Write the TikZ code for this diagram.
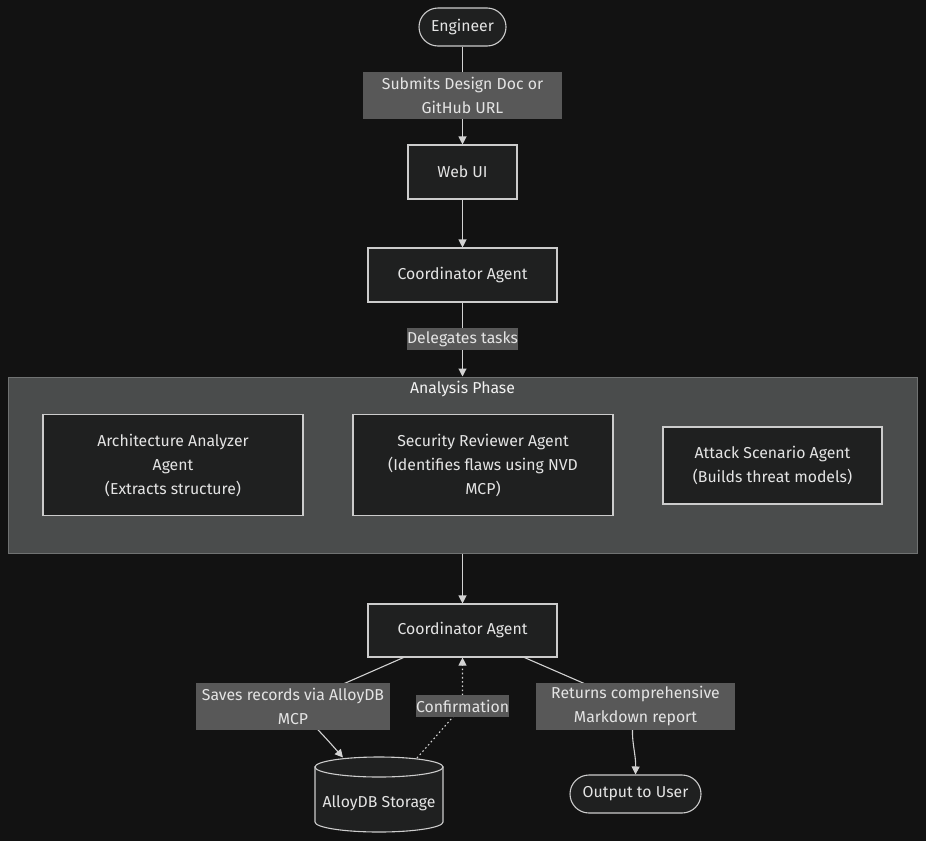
\documentclass[tikz,border=0pt]{standalone}
\usepackage{fontspec}
\setmainfont{Fira Sans}
\usetikzlibrary{arrows.meta}
\definecolor{bg}{RGB}{18,18,18}
\definecolor{nodefill}{RGB}{31,32,32}
\definecolor{nodeline}{RGB}{204,204,204}
\definecolor{txt}{RGB}{228,228,228}
\definecolor{lblfill}{RGB}{88,88,88}
\definecolor{clfill}{RGB}{74,76,76}
\definecolor{clline}{RGB}{112,114,114}
\definecolor{edgecol}{RGB}{210,210,210}
\begin{document}
\begin{tikzpicture}[x=1pt,y=-1pt,
  fnt/.style={font=\fontsize{15.8}{24}\selectfont},
  box/.style={fnt, draw=nodeline, fill=nodefill, line width=1.1pt, text=txt, align=center, inner sep=0pt},
  stadium/.style={box, rounded corners=19pt},
  lbl/.style={fnt, fill=lblfill, text=txt, align=center, inner sep=0pt},
  conn/.style={draw=edgecol, line width=1.1pt},
  arr/.style={conn, -{Triangle[length=8pt,width=8pt]}},
  cyl/.style={draw=nodeline, fill=nodefill, line width=1.1pt},
]
\useasboundingbox (0,0) rectangle (926,841);
\fill[bg] (0,0) rectangle (926,841);

% cluster
\node[draw=clline, fill=clfill, line width=1pt, minimum width=909pt, minimum height=176pt, inner sep=0pt] (ana) at (462.5,465) {};
\node[fnt, text={rgb,255:red,242;green,242;blue,242}, inner sep=0pt] (anatitle) at (462.5,389) {Analysis Phase};

% nodes
\node[stadium, minimum width=87pt, minimum height=38pt] (eng) at (462.5,27) {Engineer};
\node[box, minimum width=109pt, minimum height=54pt] (web) at (462.5,172) {Web UI};
\node[box, minimum width=189pt, minimum height=54pt] (c1) at (462.5,275) {Coordinator Agent};
\node[box, minimum width=260pt, minimum height=101pt] (arch) at (173,465) {Architecture Analyzer\\Agent\\(Extracts structure)};
\node[box, minimum width=260pt, minimum height=101pt] (sec) at (483,465) {Security Reviewer Agent\\(Identifies flaws using NVD\\MCP)};
\node[box, minimum width=219pt, minimum height=77pt] (att) at (772.5,465.5) {Attack Scenario Agent\\(Builds threat models)};
\node[box, minimum width=189pt, minimum height=53pt] (c2) at (462.5,630.5) {Coordinator Agent};
\node[stadium, minimum width=131pt, minimum height=38pt] (out) at (635.5,794) {Output to User};

% cylinder
\node[minimum width=128pt, minimum height=75pt, inner sep=0pt] (db) at (379,794.5) {};
\draw[cyl] (315,767) -- (315,822) arc[start angle=180, end angle=360, x radius=64pt, y radius=10pt] -- (443,767) -- cycle;
\draw[cyl] (379,767) ellipse[x radius=64pt, y radius=10pt];
\node[fnt, text=txt, inner sep=0pt] (dbtext) at (379,803) {AlloyDB Storage};

% edges
\draw[arr] (eng) -- (web);
\draw[arr] (web) -- (c1);
\draw[arr] (c1) -- (ana.north);
\draw[arr] (ana.south) -- (c2);
\draw[arr] ([xshift=-59pt]c2.south) -- (293,706) .. controls (312,722) and (332,745) .. (343,757.5);
\draw[conn, dash pattern=on 1.6pt off 2.6pt, -{Triangle[length=8pt,width=8pt]}] (417,758) -- (462.5,706) -- (c2.south);
\draw[arr] ([xshift=62pt]c2.south) -- (636,706) .. controls (628,735) and (636,750) .. (out.north);

% edge labels
\node[lbl, minimum width=199pt, minimum height=47pt] (l1) at (462.5,95.5) {Submits Design Doc or\\GitHub URL};
\node[lbl, minimum width=111pt, minimum height=22pt] (l2) at (462.5,339) {Delegates tasks};
\node[lbl, minimum width=194pt, minimum height=47pt] (l3) at (293,706.5) {Saves records via AlloyDB\\MCP};
\node[lbl, minimum width=93pt, minimum height=22pt] (l4) at (462.5,706) {Confirmation};
\node[lbl, minimum width=199pt, minimum height=47pt] (l5) at (635.5,706.5) {Returns comprehensive\\Markdown report};
\end{tikzpicture}
\end{document}
